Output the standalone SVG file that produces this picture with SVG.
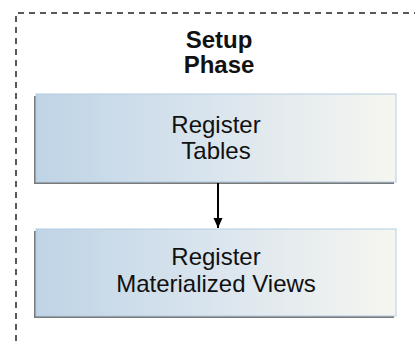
<svg xmlns="http://www.w3.org/2000/svg" width="415" height="341" viewBox="0 0 415 341">
<defs>
<linearGradient id="g" x1="0" y1="0" x2="1" y2="0">
<stop offset="0" stop-color="#bfd4e6"/>
<stop offset="0.5" stop-color="#dae5ee"/>
<stop offset="1" stop-color="#f6f6f0"/>
</linearGradient>
<marker id="ah" markerWidth="12" markerHeight="12" refX="10" refY="6" orient="auto" markerUnits="userSpaceOnUse">
<path d="M0,1.5 L10,6 L0,10.5 Z" fill="#000"/>
</marker>
<style>
.frame{fill:none;stroke:#222;stroke-width:1.5;stroke-dasharray:6,5}
.shadow{fill:#7a7a7a}
.box{fill:url(#g);stroke:#b4cbe0;stroke-width:1}
.t{font-family:"Liberation Sans",Arial,sans-serif;font-size:24px;fill:#111;text-anchor:middle}
.b{font-weight:bold}
.conn{stroke:#000;stroke-width:2;fill:none}
</style>
</defs>
<g id="phase">
<path class="frame" d="M16,341 L16,13 L415,13"/>
<text class="t b" x="219" y="48">Setup</text>
<text class="t b" x="219" y="73">Phase</text>
</g>
<g id="register-tables">
<rect class="shadow" x="34" y="96" width="360" height="88"/>
<rect class="box" x="36" y="94" width="360" height="88"/>
<text class="t" x="216" y="133">Register</text>
<text class="t" x="216" y="159">Tables</text>
</g>
<g id="register-mviews">
<rect class="shadow" x="34" y="231" width="360" height="87"/>
<rect class="box" x="36" y="229" width="360" height="87"/>
<text class="t" x="216" y="265">Register</text>
<text class="t" x="216" y="292">Materialized Views</text>
</g>
<g id="connectors">
<line class="conn" x1="218" y1="183" x2="218" y2="228" marker-end="url(#ah)"/>
</g>
</svg>
